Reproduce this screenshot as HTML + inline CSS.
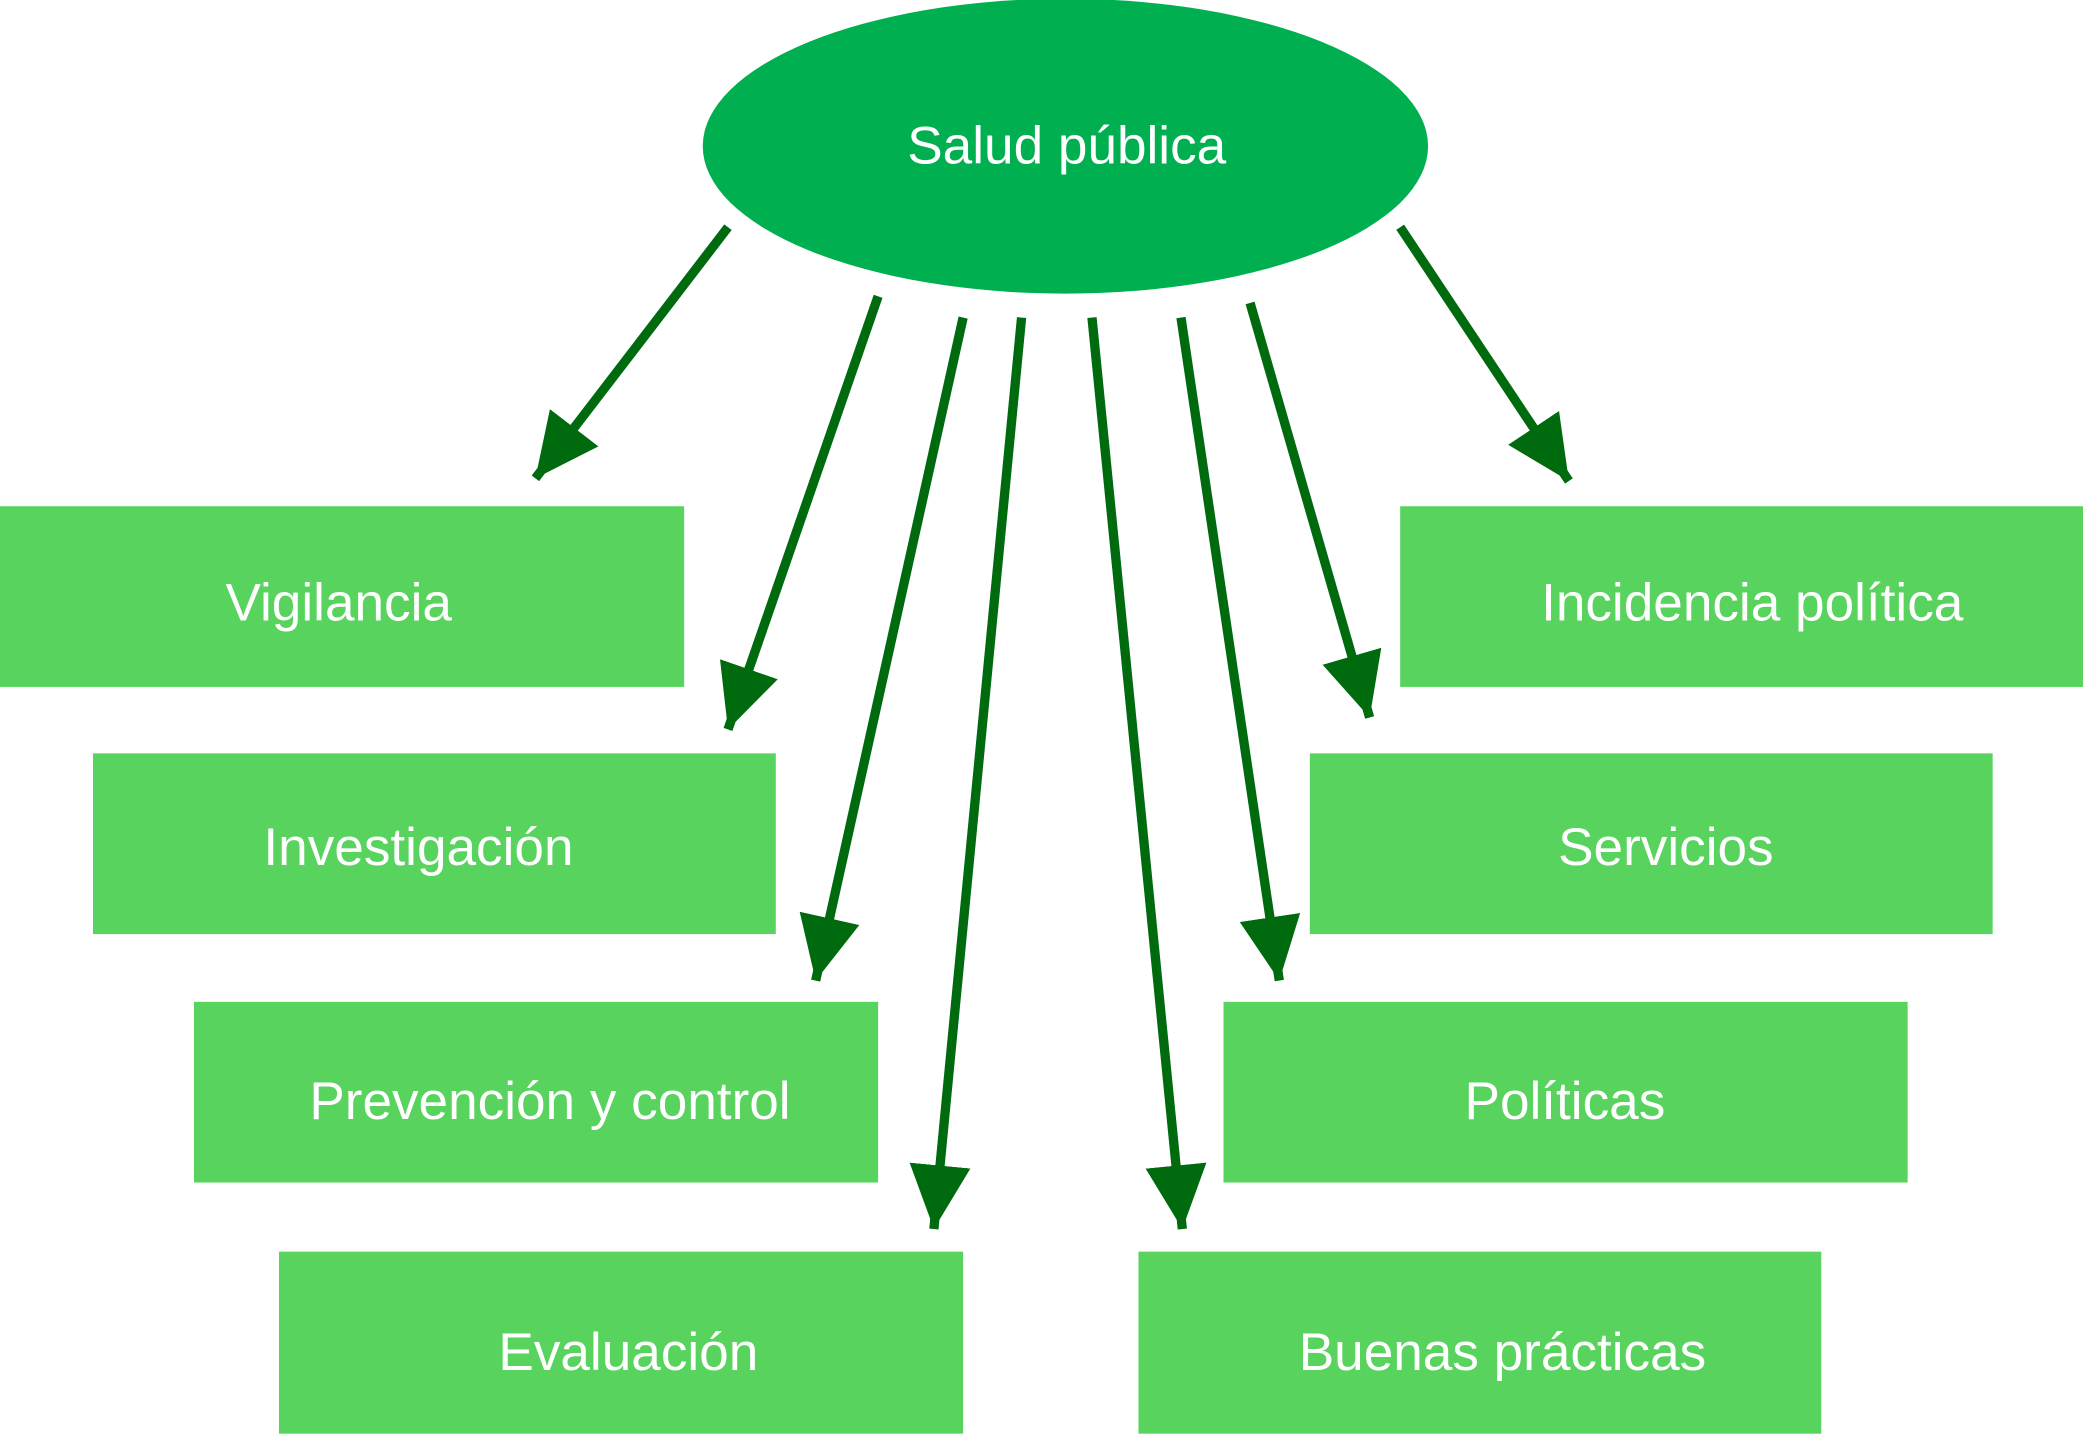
<!DOCTYPE html>
<html><head><meta charset="utf-8"><style>html,body{margin:0;padding:0;background:#fff}svg{display:block}</style></head>
<body>
<svg width="2083" height="1435" viewBox="0 0 1568 1080" preserveAspectRatio="none" xmlns="http://www.w3.org/2000/svg">
<defs>
<marker id="a" markerUnits="userSpaceOnUse" markerWidth="50" markerHeight="50" viewBox="0 0 50 50" refX="48" refY="25" orient="auto">
<path d="M0,2 L48,25 L0,48 Z" fill="#006a0e"/>
</marker>
</defs>
<ellipse cx="802" cy="110" rx="273" ry="111" fill="#00b050"/>
<g fill="#58d35e">
<rect x="0" y="381" width="515" height="136"/>
<rect x="70" y="567" width="514" height="136"/>
<rect x="146" y="754" width="515" height="136"/>
<rect x="210" y="942" width="515" height="137"/>
<rect x="1054" y="381" width="514" height="136"/>
<rect x="986" y="567" width="514" height="136"/>
<rect x="921" y="754" width="515" height="136"/>
<rect x="857" y="942" width="514" height="137"/>
</g>
<g stroke="#006a0e" stroke-width="7" marker-end="url(#a)" fill="none">
<line x1="548" y1="171" x2="403" y2="360"/>
<line x1="661" y1="223" x2="548" y2="549"/>
<line x1="725" y1="239" x2="614" y2="738"/>
<line x1="769" y1="239" x2="703" y2="925"/>
<line x1="822" y1="239" x2="890" y2="925"/>
<line x1="889" y1="239" x2="963" y2="738"/>
<line x1="941" y1="228" x2="1031" y2="540"/>
<line x1="1054" y1="171" x2="1181" y2="362"/>
</g>
<g fill="#fff" font-family="Liberation Sans, sans-serif" font-size="40" text-anchor="middle">
<text x="803" y="123">Salud pública</text>
<text x="255" y="467">Vigilancia</text>
<text x="315" y="651">Investigación</text>
<text x="414" y="842">Prevención y control</text>
<text x="473" y="1031">Evaluación</text>
<text x="1319" y="467">Incidencia política</text>
<text x="1254" y="651">Servicios</text>
<text x="1178" y="842">Políticas</text>
<text x="1131" y="1031">Buenas prácticas</text>
</g>
</svg>
</body></html>
